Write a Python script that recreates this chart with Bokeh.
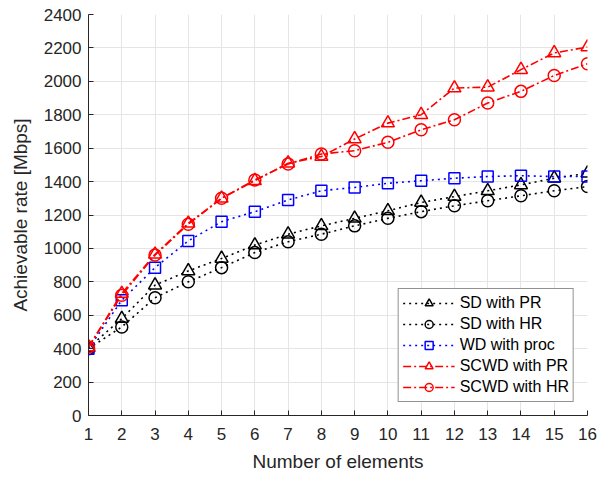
from bokeh.plotting import figure
from bokeh.models import Range1d, FixedTicker
from bokeh.embed import file_html
from bokeh.resources import INLINE

elements = list(range(1, 17))
sd_pr = [405, 580, 780, 865, 940, 1020, 1085, 1135, 1180, 1225, 1275, 1310, 1345, 1380, 1420, 1450]
sd_hr = [400, 530, 705, 800, 885, 975, 1040, 1085, 1135, 1180, 1220, 1255, 1285, 1315, 1345, 1370]
wd_proc = [400, 690, 885, 1045, 1160, 1220, 1290, 1345, 1365, 1390, 1405, 1420, 1430, 1435, 1430, 1430]
scwd_pr = [410, 730, 965, 1150, 1300, 1405, 1510, 1550, 1655, 1750, 1800, 1960, 1965, 2070, 2170, 2205]
scwd_hr = [410, 720, 960, 1145, 1300, 1410, 1505, 1565, 1585, 1635, 1710, 1770, 1870, 1940, 2035, 2105]
y_ticks = list(range(0, 2401, 200))

FONT = "Liberation Sans"
TXT = "#262626"

p = figure(width=605, height=475, output_backend="svg", toolbar_location=None,
           x_range=Range1d(1, 16), y_range=Range1d(0, 2400),
           min_border_left=88, min_border_right=18, min_border_top=14, min_border_bottom=60)
p.outline_line_color = None

for ax in (p.xaxis[0], p.yaxis[0]):
    ax.major_tick_in = 5
    ax.major_tick_out = 0
    ax.minor_tick_line_color = None
    ax.axis_line_color = TXT
    ax.major_tick_line_color = TXT
    ax.major_label_text_color = TXT
    ax.major_label_text_font = FONT
    ax.major_label_text_font_size = "17px"
    ax.axis_label_text_font = FONT
    ax.axis_label_text_font_size = "19px"
    ax.axis_label_text_font_style = "normal"
    ax.axis_label_text_color = TXT

p.xaxis.ticker = FixedTicker(ticks=elements)
p.yaxis.ticker = FixedTicker(ticks=y_ticks)
p.xaxis.axis_label = "Number of elements"
p.yaxis.axis_label = "Achievable rate [Mbps]"
p.xaxis.major_label_standoff = 12
p.yaxis.major_label_standoff = 7
p.xaxis.axis_label_standoff = 8
p.yaxis.axis_label_standoff = 10

p.xgrid.grid_line_color = "#e5e5e5"
p.ygrid.grid_line_color = "#e5e5e5"
p.xgrid.ticker = FixedTicker(ticks=elements)
p.ygrid.ticker = FixedTicker(ticks=y_ticks)

series = [
    ("SD with PR", sd_pr, "black", "dotted", "triangle", 13),
    ("SD with HR", sd_hr, "black", "dotted", "circle", 12),
    ("WD with proc", wd_proc, "blue", "dotted", "square", 11),
    ("SCWD with PR", scwd_pr, "red", "8 3 2 3", "triangle", 13),
    ("SCWD with HR", scwd_hr, "red", "8 3 2 3", "circle", 12),
]
for name, ys, col, dash, mk, sz in series:
    p.line(elements, ys, line_color=col, line_dash=dash, line_width=1.6, legend_label=name)
    p.scatter(elements, ys, marker=mk, size=sz, line_color=col, fill_alpha=0,
              line_width=1.5, legend_label=name)

lg = p.legend[0]
lg.location = "bottom_right"
lg.margin = 13
lg.border_line_color = "#262626"
lg.border_line_width = 1
lg.background_fill_alpha = 1
lg.label_text_font = FONT
lg.label_text_font_size = "16px"
lg.label_text_color = "black"
lg.glyph_width = 52
lg.glyph_height = 20
lg.label_height = 20
lg.spacing = 1
lg.padding = 4
lg.label_standoff = 5

open("out.html", "w").write(file_html(p, INLINE))
